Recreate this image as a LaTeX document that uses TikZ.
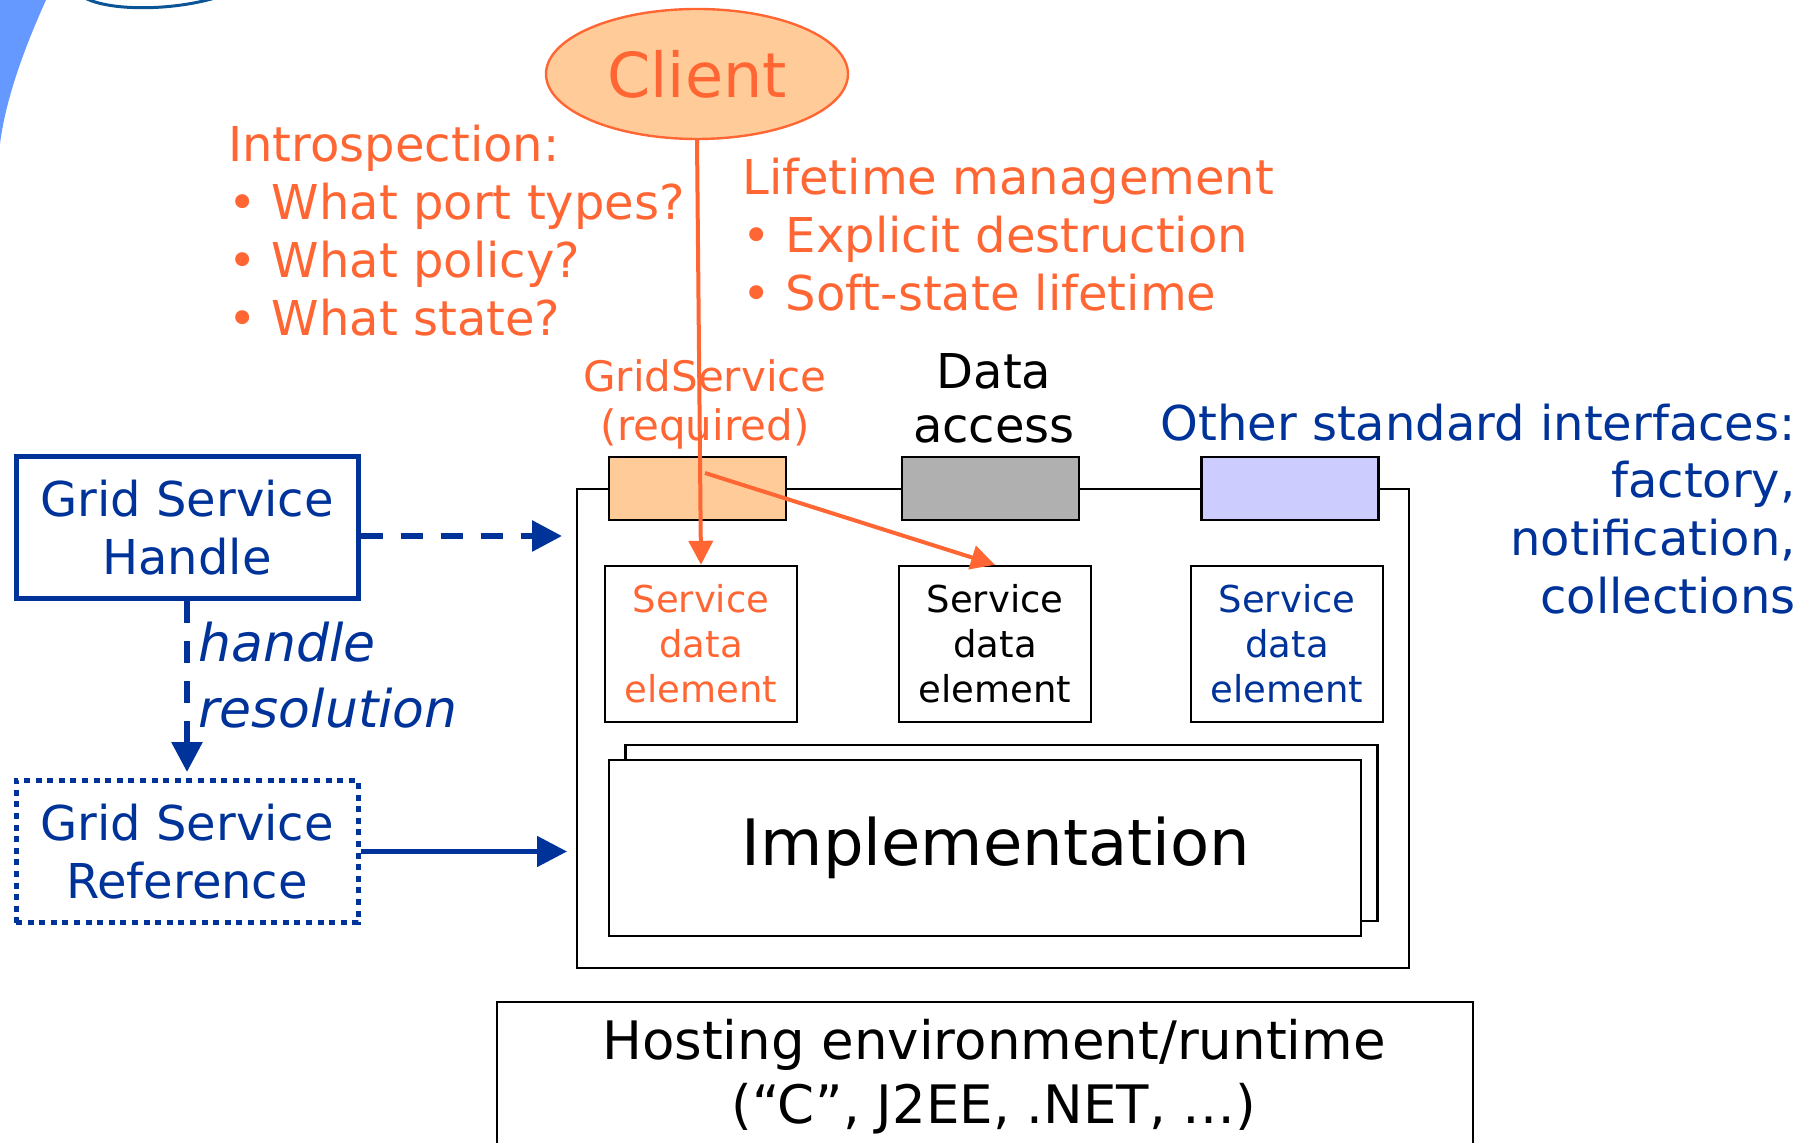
\documentclass[tikz,border=0pt]{standalone}
\usepackage{fontspec}
\setmainfont{DejaVu Sans}
\usetikzlibrary{arrows.meta,shapes.geometric}
\definecolor{orng}{HTML}{FF6633}
\definecolor{dblue}{HTML}{003399}
\definecolor{peach}{HTML}{FFCC99}
\definecolor{lav}{HTML}{CCCCFF}
\definecolor{portgray}{HTML}{B0B0B0}
\definecolor{skyb}{HTML}{6699FF}
\definecolor{logob}{HTML}{0B5596}
\begin{document}
\begin{tikzpicture}[x=0.5pt,y=-0.5pt,
  lbl/.style={inner sep=0pt, anchor=base west, font=\fontsize{24pt}{29pt}\selectfont},
  clbl/.style={inner sep=0pt, anchor=base, font=\fontsize{24pt}{29pt}\selectfont},
  rlbl/.style={inner sep=0pt, anchor=base east, text=dblue, font=\fontsize{24pt}{29pt}\selectfont},
  ilbl/.style={inner sep=0pt, anchor=base west, text=dblue, font=\fontsize{26pt}{31pt}\selectfont\itshape},
  gsbox/.style={draw=dblue, line width=2.5pt, text=dblue, align=center, minimum width=171pt, minimum height=71pt, inner sep=0pt, font=\fontsize{24pt}{29pt}\selectfont},
  portbox/.style={draw=black, line width=1.2pt, minimum width=88.5pt, minimum height=31.5pt, inner sep=0pt},
  sdebox/.style={draw=black, line width=1.2pt, fill=white, minimum width=96pt, minimum height=78pt, align=center, inner sep=0pt, font=\fontsize{18.5pt}{22.5pt}\selectfont},
  implbox/.style={draw=black, line width=1.2pt, fill=white, minimum width=376pt, minimum height=88pt, inner sep=0pt},
  orarrow/.style={draw=orng, line width=2pt, -{Triangle[length=12pt,width=12pt]}},
  blarrow/.style={draw=dblue, line width=2.5pt, -{Triangle[length=15pt,width=15pt]}},
  bldash/.style={line width=3pt, dash pattern=on 11pt off 9pt}
]
\useasboundingbox (0,0) rectangle (1809,1143);
% top-left decorations
\fill[skyb] (0,0) -- (46,0) .. controls (28,40) and (6,95) .. (0,144) -- cycle;
\draw[logob, line width=1.5pt] (85,-2) .. controls (110,11) and (170,11) .. (215,-2);

% client
\node[ellipse, draw=orng, fill=peach, line width=1.2pt, minimum width=151pt, minimum height=65pt, inner sep=0pt, text=orng, font=\fontsize{31pt}{37pt}\selectfont] (client) at (697,74) {Client};

% introspection text
\node[lbl, text=orng] (intro1) at (228,162) {Introspection:};
\node[lbl, text=orng] (intro2) at (228,220) {• What port types?};
\node[lbl, text=orng] (intro3) at (228,278) {• What policy?};
\node[lbl, text=orng] (intro4) at (228,336) {• What state?};

% lifetime text
\node[lbl, text=orng] (life1) at (742,195) {Lifetime management};
\node[lbl, text=orng] (life2) at (742,253) {• Explicit destruction};
\node[lbl, text=orng] (life3) at (742,311) {• Soft-state lifetime};

% port labels
\node[clbl, text=orng, font=\fontsize{21pt}{25pt}\selectfont] (gslbl1) at (705,392) {GridService};
\node[clbl, text=orng, font=\fontsize{21pt}{25pt}\selectfont] (gslbl2) at (705,441) {(required)};
\node[clbl, text=black] (dalbl1) at (994,389) {Data};
\node[clbl, text=black] (dalbl2) at (994,443) {access};
\node[rlbl] (oth1) at (1796,441) {Other standard interfaces:};
\node[rlbl] (oth2) at (1796,498) {factory,};
\node[rlbl] (oth3) at (1796,556) {notification,};
\node[rlbl] (oth4) at (1796,614) {collections};

% service container
\node[draw=black, line width=1.2pt, minimum width=416pt, minimum height=239.5pt, inner sep=0pt] (svc) at (993,728.5) {};
\node[portbox, fill=peach] (gsport) at (697.5,488.5) {};
\node[portbox, fill=portgray] (daport) at (990.5,488.5) {};
\node[portbox, fill=lav] (otport) at (1290,488.5) {};

% service data elements
\node[sdebox, text=orng] (sde1) at (701,644) {Service\\data\\element};
\node[sdebox, text=black] (sde2) at (995,644) {Service\\data\\element};
\node[sdebox, text=dblue] (sde3) at (1287,644) {Service\\data\\element};

% implementation
\node[implbox] (implback) at (1001.5,833) {};
\node[implbox, font=\fontsize{32pt}{38pt}\selectfont] (impl) at (985,848) {\hspace{11pt}Implementation};

% hosting environment
\node[draw=black, line width=1.2pt, minimum width=488pt, minimum height=90pt, inner sep=0pt, anchor=north] (host) at (985,1001) {};
\node[inner sep=0pt, align=center, font=\fontsize{26.5pt}{32pt}\selectfont] (hosttxt) at (994,1077) {Hosting environment/runtime\\(“C”, J2EE, .NET, …)};

% grid service handle / reference
\node[gsbox] (gsh) at (187,528) {Grid Service\\Handle};
\node[gsbox, dash pattern=on 3pt off 2.8pt] (gsr) at (187,851.5) {Grid Service\\Reference};
\node[ilbl] (hr1) at (198,662) {handle};
\node[ilbl] (hr2) at (198,727) {resolution};

\coordinate (dashend) at (562,536);
\coordinate (solidend) at (567,851.5);
\draw[blarrow, bldash] ([yshift=-4pt]gsh.east) -- (dashend);
\draw[blarrow, bldash, shorten >=3pt] (gsh.south) -- (gsr.north);
\draw[blarrow] (gsr.east) -- (solidend);

% orange arrows
\coordinate (gsin) at (705,473);
\draw[orarrow] (client.south) -- (sde1.north);
\draw[orarrow] (gsin) -- (sde2.north);
\end{tikzpicture}
\end{document}
